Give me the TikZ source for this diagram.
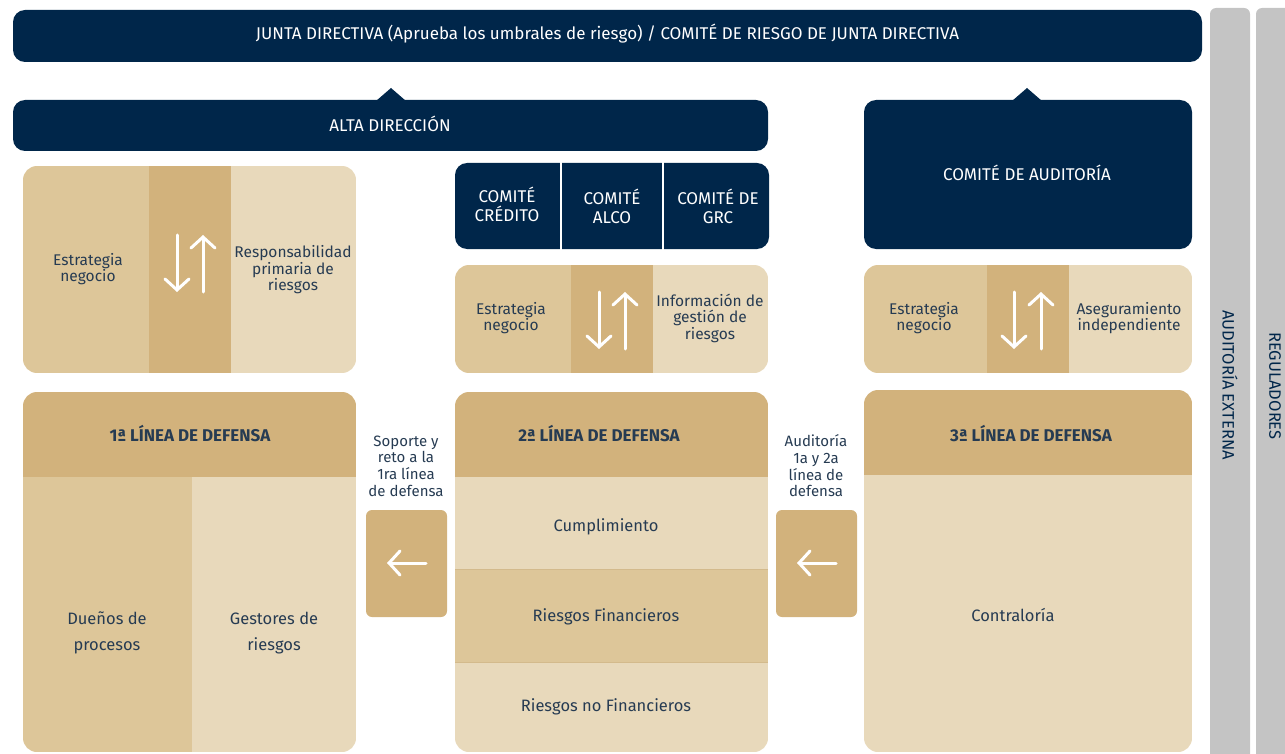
\documentclass[tikz,border=0pt]{standalone}
\usepackage{fontspec}
\setmainfont{Fira Sans}
\usetikzlibrary{arrows.meta}
\definecolor{navy}{HTML}{00264A}
\definecolor{txt}{HTML}{263B52}
\definecolor{goldA}{HTML}{D2B27C}
\definecolor{goldB}{HTML}{DDC699}
\definecolor{goldC}{HTML}{E8D9BB}
\definecolor{goldL}{HTML}{D3BA8C}
\definecolor{graybar}{HTML}{C4C4C4}
\tikzset{
  darkbar/.style={fill=navy, rounded corners=12pt},
  wtxt/.style={text=white, font=\fontsize{17}{19}\selectfont, align=center, inner sep=0pt},
  utxt/.style={text=txt, font=\fontsize{15.5}{16.5}\selectfont, align=center, inner sep=0pt},
  btxt/.style={text=txt, font=\fontsize{16.5}{18}\selectfont, align=center, inner sep=0pt},
  stxt/.style={text=txt, font=\fontsize{15}{16.7}\selectfont, align=center, inner sep=0pt},
  htxt/.style={text=txt, font=\fontsize{17}{19}\selectfont\bfseries, align=center, inner sep=0pt},
  ltxt/.style={text=txt, font=\fontsize{16.5}{26}\selectfont, align=center, inner sep=0pt},
  vtxt/.style={text=navy, font=\fontsize{16.5}{18}\selectfont, rotate=-90, inner sep=0pt},
  warrow/.style={draw=white, line width=3pt, line cap=round, -{Straight Barb[length=11pt, width=24pt, line cap=round]}},
}
\begin{document}
\begin{tikzpicture}[x=1pt, y=-1pt]
\useasboundingbox (0,0) rectangle (1285,754);

% grey side bars
\begin{scope}
\clip (0,0) rectangle (1285,754);
\fill[graybar, rounded corners=6pt] (1210,8) rectangle (1250,780);
\fill[graybar, rounded corners=6pt] (1256,8) rectangle (1310,780);
\end{scope}
\node[vtxt] (audext) at (1230,385) {AUDITORÍA EXTERNA};
\node[vtxt] (regul) at (1275,386) {REGULADORES};

% top bar
\fill[darkbar] (13,10) rectangle (1202,62);
\node[wtxt] (junta) at (607.5,34) {JUNTA DIRECTIVA (Aprueba los umbrales de riesgo) / COMITÉ DE RIESGO DE JUNTA DIRECTIVA};

% triangles
\fill[navy] (376,101) -- (391,88) -- (406,101) -- cycle;
\fill[navy] (1012,101) -- (1027,88) -- (1042,101) -- cycle;

% alta direccion
\fill[darkbar] (13,100) rectangle (768,151);
\node[wtxt] (alta) at (390,124) {ALTA DIRECCIÓN};

% comite auditoria
\fill[darkbar] (864,100) rectangle (1192,249);
\node[wtxt] (caud) at (1027,173) {COMITÉ DE AUDITORÍA};

% committees
\fill[navy, rounded corners=12pt] (455,163) rectangle (769,249);
\draw[white, line width=2pt] (561,162) -- (561,250);
\draw[white, line width=2pt] (663,162) -- (663,250);
\node[wtxt] (ccred) at (507,204) {COMITÉ\\CRÉDITO};
\node[wtxt] (calco) at (612,206) {COMITÉ\\ALCO};
\node[wtxt] (cgrc) at (718,206) {COMITÉ DE\\GRC};

% upper box A
\begin{scope}
\clip[rounded corners=14pt] (23,166) rectangle (356,373);
\fill[goldB] (23,166) rectangle (149,373);
\fill[goldA] (149,166) rectangle (231,373);
\fill[goldC] (231,166) rectangle (356,373);
\end{scope}
\draw[warrow] (177,235) -- (177,292);
\draw[warrow] (203,292) -- (203,235);
\node[utxt] (estA) at (88,269) {Estrategia\\negocio};
\node[utxt] (resA) at (293,270) {Responsabilidad\\primaria de\\riesgos};

% upper box B
\begin{scope}
\clip[rounded corners=14pt] (455,265) rectangle (768,373);
\fill[goldB] (455,265) rectangle (571,373);
\fill[goldA] (571,265) rectangle (653,373);
\fill[goldC] (653,265) rectangle (768,373);
\end{scope}
\draw[warrow] (599,292) -- (599,349);
\draw[warrow] (625,349) -- (625,292);
\node[utxt] (estB) at (511,318) {Estrategia\\negocio};
\node[utxt] (infB) at (710,318) {Información de\\gestión de\\riesgos};

% upper box C
\begin{scope}
\clip[rounded corners=14pt] (864,265) rectangle (1192,373);
\fill[goldB] (864,265) rectangle (987,373);
\fill[goldA] (987,265) rectangle (1069,373);
\fill[goldC] (1069,265) rectangle (1192,373);
\end{scope}
\draw[warrow] (1014,292) -- (1014,349);
\draw[warrow] (1041,349) -- (1041,292);
\node[utxt] (estC) at (924,318) {Estrategia\\negocio};
\node[utxt] (aseC) at (1129,318) {Aseguramiento\\independiente};

% 1st line
\begin{scope}
\clip[rounded corners=14pt] (23,392) rectangle (356,752);
\fill[goldA] (23,392) rectangle (356,477);
\fill[goldB] (23,477) rectangle (192,752);
\fill[goldC] (192,477) rectangle (356,752);
\end{scope}
\node[htxt] (l1) at (190,434) {1ª LÍNEA DE DEFENSA};
\node[ltxt] (duen) at (107,633) {Dueños de\\procesos};
\node[ltxt] (gest) at (274,633) {Gestores de\\riesgos};

% 2nd line
\begin{scope}
\clip[rounded corners=14pt] (455,392) rectangle (768,752);
\fill[goldA] (455,392) rectangle (768,477);
\fill[goldC] (455,477) rectangle (768,569);
\fill[goldB] (455,569) rectangle (768,662);
\fill[goldC] (455,662) rectangle (768,752);
\draw[goldL, line width=1pt] (455,569) -- (768,569);
\draw[goldL, line width=1pt] (455,662) -- (768,662);
\end{scope}
\node[htxt] (l2) at (599,434) {2ª LÍNEA DE DEFENSA};
\node[btxt] (cump) at (606,527) {Cumplimiento};
\node[btxt] (rfin) at (606,617) {Riesgos Financieros};
\node[btxt] (rnfin) at (606,707) {Riesgos no Financieros};

% 3rd line
\begin{scope}
\clip[rounded corners=14pt] (864,390) rectangle (1192,752);
\fill[goldA] (864,390) rectangle (1192,475);
\fill[goldC] (864,475) rectangle (1192,752);
\end{scope}
\node[htxt] (l3) at (1031,434) {3ª LÍNEA DE DEFENSA};
\node[btxt] (contr) at (1013,615) {Contraloría};

% arrow boxes
\fill[goldA, rounded corners=6pt] (366,510) rectangle (447,617);
\draw[warrow] (426,563) -- (387,563);
\node[stxt] (sop) at (406,466) {Soporte y\\reto a la\\1ra línea\\de defensa};
\fill[goldA, rounded corners=6pt] (776,510) rectangle (857,617);
\draw[warrow] (836,563) -- (797,563);
\node[stxt] (aud) at (816,466) {Auditoría\\1a y 2a\\línea de\\defensa};
\end{tikzpicture}
\end{document}
